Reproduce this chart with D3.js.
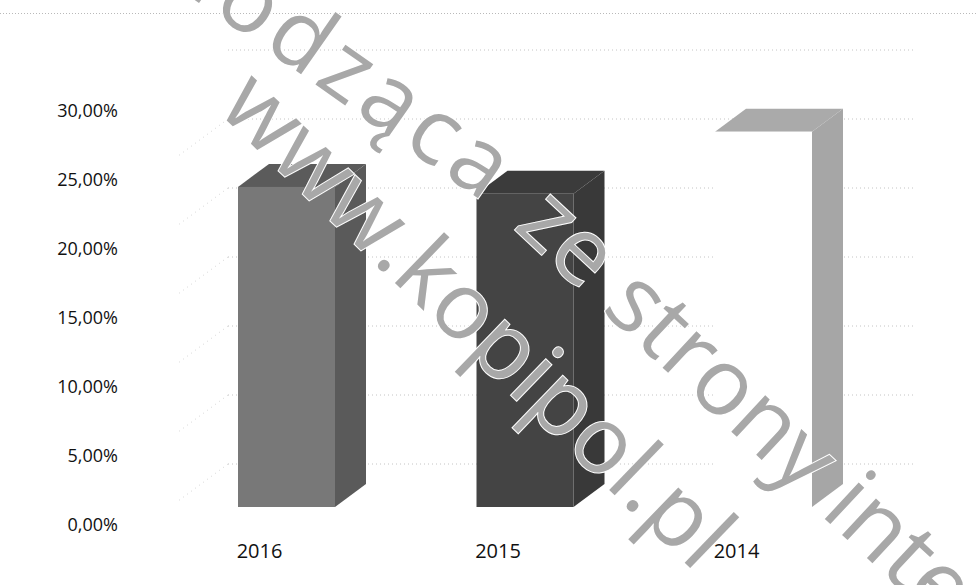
<!DOCTYPE html>
<html>
<head>
<meta charset="utf-8">
<script src="https://cdn.jsdelivr.net/npm/d3@7"></script>
<style>
  html, body { margin: 0; padding: 0; background: #fff; }
  svg { display: block; font-family: "Open Sans", sans-serif; }
</style>
</head>
<body>
<div id="chart"></div>
<script>
// chart values
const years = ["2016", "2015", "2014"];
const values = [24.5, 24.0, 28.5];
const tickValues = [0, 5, 10, 15, 20, 25, 30];
const tickLabels = ["0,00%", "5,00%", "10,00%", "15,00%", "20,00%", "25,00%", "30,00%"];
const gridValues = [5, 10, 15, 20, 25, 30, 35];
const watermarkLine1 = ["pochodząca", "ze strony internetowej"];
const watermarkLine2 = "www.kopipol.pl";

class Bar3D {
  constructor(el) {
    this.width = 978;
    this.height = 585;
    this.svg = d3.select(el).append("svg").attr("width", this.width).attr("height", this.height);
    // faces: front, top, side
    this.faces = {
      "2016": ["#787878", "#5b5b5b", "#5a5a5a"],
      "2015": ["#444444", "#3b3b3b", "#393939"],
      "2014": ["#ffffff", "#aaaaaa", "#a6a6a6"],
    };
    this.depth = { x: 31, y: -23 };
    this.half = 48.5;
    this.floorShift = 18;
    this.yScale = d3.scaleLinear().domain([0, 30]).range([525, 111]);
    this.xScale = d3.scalePoint().domain(years).range([286.5, 763.5]);
    this.draw();
  }

  draw() {
    const y = this.yScale, x = this.xScale, d = this.depth;

    // top frame line
    this.svg.append("line")
      .attr("x1", 0).attr("x2", this.width).attr("y1", 13.5).attr("y2", 13.5)
      .attr("stroke", "#b9b9b9").attr("stroke-dasharray", "1,2");

    // back wall gridlines + side wall
    const grid = this.svg.append("g").attr("class", "grid");
    grid.selectAll("line.back").data(gridValues).enter().append("line")
      .attr("class", "back")
      .attr("x1", 228).attr("x2", 915)
      .attr("y1", (v) => y(v) + 8).attr("y2", (v) => y(v) + 8)
      .attr("stroke", "#c4c4c4").attr("stroke-dasharray", "1,3");
    grid.selectAll("line.side").data(gridValues.filter((v) => v < 35)).enter().append("line")
      .attr("class", "side")
      .attr("x1", 228).attr("x2", 228 - d.x * 1.6)
      .attr("y1", (v) => y(v) + 8).attr("y2", (v) => y(v) + 8 - d.y * 1.6)
      .attr("stroke", "#d6d6d6").attr("stroke-dasharray", "1,4");

    // tick labels
    this.svg.append("g").selectAll("text").data(tickValues).enter().append("text")
      .attr("x", 118).attr("y", (v) => y(v))
      .attr("dy", "0.36em").attr("text-anchor", "end")
      .attr("font-size", 18).attr("fill", "#111")
      .text((v, i) => tickLabels[i]);

    // bars
    const base = y(0) - this.floorShift;
    const bars = this.svg.append("g").selectAll("g").data(years.map((yr, i) => ({ yr, v: values[i] }))).enter().append("g");
    bars.append("path")
      .attr("fill", (b) => this.faces[b.yr][2])
      .attr("d", (b) => {
        const r = x(b.yr) + this.half, t = y(b.v);
        return `M${r},${t}L${r + d.x},${t + d.y}L${r + d.x},${base + d.y}L${r},${base}Z`;
      });
    bars.append("path")
      .attr("fill", (b) => this.faces[b.yr][1])
      .attr("d", (b) => {
        const l = x(b.yr) - this.half, r = x(b.yr) + this.half, t = y(b.v);
        return `M${l},${t}L${l + d.x},${t + d.y}L${r + d.x},${t + d.y}L${r},${t}Z`;
      });
    bars.append("rect")
      .attr("fill", (b) => this.faces[b.yr][0])
      .attr("x", (b) => x(b.yr) - this.half)
      .attr("width", this.half * 2)
      .attr("y", (b) => y(b.v))
      .attr("height", (b) => base - y(b.v));

    // category labels
    this.svg.append("g").selectAll("text").data(years).enter().append("text")
      .attr("x", (yr) => x(yr) - 27).attr("y", 551)
      .attr("dy", "0.36em").attr("text-anchor", "middle")
      .attr("font-size", 20).attr("fill", "#111")
      .text((yr) => yr);

    // watermark (scanned page is a bit warped, so the first word bends)
    const wm = this.svg.append("g").attr("class", "watermark")
      .attr("font-size", 93).attr("font-weight", 500).attr("fill", "#a8a8a8")
      .attr("stroke", "#fff").attr("stroke-width", 2).attr("paint-order", "stroke");
    wm.append("g").attr("transform", "translate(489,206) rotate(35)")
      .append("text").attr("text-anchor", "end").attr("letter-spacing", 6).text(watermarkLine1[0]);
    wm.append("g").attr("transform", "translate(470,188) rotate(43)")
      .append("text").attr("x", 58).text(watermarkLine1[1]);
    wm.append("g").attr("transform", "translate(456,342) rotate(44)")
      .append("text").attr("text-anchor", "middle").text(watermarkLine2);
  }
}

new Bar3D("#chart");
</script>
</body>
</html>
